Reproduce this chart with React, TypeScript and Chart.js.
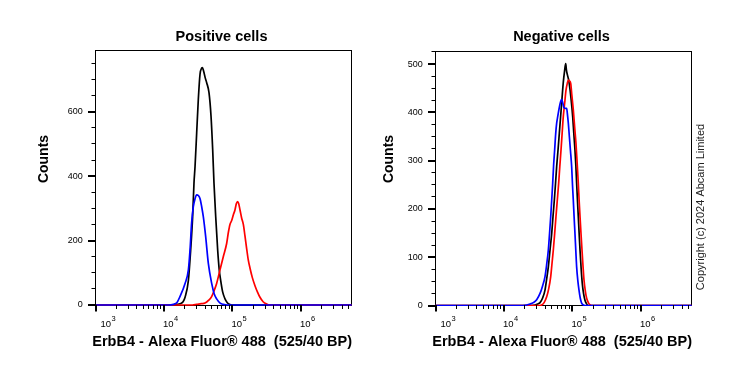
import React, { useEffect, useRef } from "react";
import { Chart, registerables } from "chart.js";

Chart.register(...registerables);

const FONT = "'Liberation Sans', Arial, Helvetica, sans-serif";

// ---------- shared x axis (log, fluorescence) ----------
const xMin = 983;
const xMax = 5.56e6;
const xMajorValues = [1e3, 1e4, 1e5, 1e6];
const xMajorBase = "10";
const xMajorExponents = ["3", "4", "5", "6"];
const xDecades = [3, 4, 5, 6];
const xMantissas = [1, 2, 3, 4, 5, 6, 7, 8, 9];
const xAxisTitle = "ErbB4 - Alexa Fluor® 488  (525/40 BP)";
const yAxisTitle = "Counts";

// ---------- Positive cells ----------
const posTitle = "Positive cells";
const posYMajor = [0, 200, 400, 600];
const posYMinor = [0, 50, 100, 150, 200, 250, 300, 350, 400, 450, 500, 550, 600, 650, 700, 750];

const posBlackX = [983, 13000, 15500, 17100, 19000, 20300, 22700, 24500, 26200, 27400, 28400, 30000, 31700, 33600, 35500, 36300, 38000, 40000, 42000, 45400, 48600, 51400, 53700, 56900, 60800, 64000, 67300, 72000, 77800, 84000, 90000, 100000, 5.5e6];
const posBlackY = [0, 0, 2, 4, 10, 24, 76, 170, 274, 378, 430, 534, 638, 717, 735, 737, 725, 705, 690, 659, 586, 482, 378, 274, 170, 110, 76, 40, 19, 7, 2, 0, 0];

const posBlueX = [983, 11500, 13700, 15500, 17100, 20300, 22700, 24000, 25300, 26800, 28400, 30000, 31700, 33600, 35500, 37500, 40600, 44400, 49700, 54000, 58700, 66000, 73400, 85000, 5.5e6];
const posBlueY = [0, 0, 2, 8, 26, 67, 109, 171, 254, 305, 330, 342, 340, 330, 305, 274, 212, 129, 67, 35, 19, 6, 2, 0, 0];

const posRedX = [983, 26000, 30000, 35000, 39700, 45000, 49600, 54000, 58700, 65700, 73400, 82200, 87000, 91900, 97300, 103000, 108700, 114000, 119000, 123000, 128800, 136000, 144000, 152000, 161000, 170000, 180000, 195000, 213000, 232000, 252000, 280000, 315000, 350000, 5.5e6];
const posRedY = [0, 0, 2, 4, 6, 15, 26, 45, 67, 109, 150, 191, 225, 250, 262, 280, 295, 315, 321, 315, 295, 270, 250, 215, 175, 140, 115, 85, 60, 40, 24, 10, 3, 0, 0];

// ---------- Negative cells ----------
const negTitle = "Negative cells";
const negYMajor = [0, 100, 200, 300, 400, 500];
const negYMinor = [0, 25, 50, 75, 100, 125, 150, 175, 200, 225, 250, 275, 300, 325, 350, 375, 400, 425, 450, 475, 500, 525];

const negBlackX = [983, 25000, 28400, 31000, 33600, 36500, 39700, 42000, 44400, 47000, 49700, 52000, 54300, 56500, 58700, 61500, 64200, 67000, 70000, 73400, 76500, 79600, 81500, 84100, 87000, 90000, 95000, 100700, 104500, 108700, 112000, 115000, 118000, 121600, 125000, 128800, 134000, 139000, 145000, 152100, 160000, 170000, 5.5e6];
const negBlackY = [0, 0, 1, 3, 6, 15, 32, 55, 80, 115, 149, 185, 218, 252, 287, 322, 356, 390, 425, 462, 485, 501, 488, 478, 470, 458, 430, 391, 357, 322, 290, 253, 220, 184, 150, 115, 75, 46, 25, 11, 4, 0, 0];

const negBlueX = [983, 19000, 21400, 24000, 26800, 30000, 33600, 36500, 39700, 42000, 44400, 46300, 48100, 49700, 51400, 53000, 54900, 56800, 58700, 61000, 64200, 67000, 69500, 72000, 75000, 79600, 82200, 84100, 87000, 90000, 93500, 97300, 100000, 102800, 105500, 108700, 112000, 115000, 120000, 124500, 130000, 136000, 145000, 152000, 5.5e6];
const negBlueY = [0, 0, 1, 3, 6, 12, 25, 40, 60, 85, 115, 150, 184, 218, 253, 290, 322, 355, 377, 392, 410, 422, 427, 420, 410, 408, 408, 398, 377, 350, 320, 287, 250, 218, 185, 149, 112, 80, 50, 32, 15, 5, 1, 0, 0];

const negRedX = [983, 33000, 35500, 38500, 42000, 45000, 48100, 50300, 52500, 55000, 57400, 60000, 62800, 65300, 68000, 70500, 73400, 77000, 80400, 84000, 87000, 90500, 94200, 98000, 102800, 107500, 112400, 117000, 121600, 125000, 128800, 133000, 137700, 142000, 147200, 154000, 161000, 172000, 182000, 190500, 5.5e6];
const negRedY = [0, 0, 1, 6, 18, 35, 60, 88, 115, 150, 184, 218, 253, 288, 322, 355, 391, 420, 446, 460, 467, 465, 460, 435, 405, 370, 336, 295, 253, 218, 184, 150, 115, 85, 53, 30, 15, 5, 1, 0, 0];

const copyrightText = "Copyright (c) 2024 Abcam Limited";

const BLACK = "#000000";
const BLUE = "#0000ff";
const RED = "#ff0000";

type Series = { xs: number[]; ys: number[]; color: string };

type PanelCfg = {
  title: string;
  series: Series[];
  yMin: number;
  yMax: number;
  yMajor: number[];
  yMinor: number[];
  yAxisWidth: number;
  padTop: number;
  padRight: number;
  countsOffset: number;
  copyright?: { x: number; y: number };
};

const xTickValues: number[] = [];
xDecades.forEach((d) =>
  xMantissas.forEach((m) => {
    const v = m * Math.pow(10, d);
    if (v >= xMin && v <= xMax) xTickValues.push(v);
  })
);

function makeDecor(p: PanelCfg) {
  return {
    id: "decor",
    beforeDatasetsDraw(chart: any) {
      const { ctx, chartArea: a } = chart;
      ctx.save();
      ctx.strokeStyle = "#000";
      ctx.lineWidth = 1;
      ctx.strokeRect(a.left + 0.5, a.top + 0.5, a.right - a.left - 1, a.bottom - a.top - 1);
      ctx.restore();
    },
    afterDraw(chart: any) {
      const { ctx, chartArea: a, scales } = chart;
      ctx.save();
      ctx.strokeStyle = "#000";
      // x tick marks
      const xs = scales.x;
      xs.ticks.forEach((t: any) => {
        const major = xMajorValues.includes(t.value);
        const px = xs.getPixelForValue(t.value);
        ctx.lineWidth = major ? 2 : 1;
        const xx = major ? Math.round(px) : Math.round(px - 0.5) + 0.5;
        ctx.beginPath();
        ctx.moveTo(xx, a.bottom - 1);
        ctx.lineTo(xx, a.bottom + (major ? 5.5 : 3));
        ctx.stroke();
      });
      // x decade labels: "10" with raised exponent
      ctx.fillStyle = "#000";
      ctx.textAlign = "left";
      ctx.textBaseline = "alphabetic";
      xMajorValues.forEach((v, i) => {
        const px = xs.getPixelForValue(v);
        const x0 = Math.max(px - 1, a.left + 5.5);
        ctx.font = `9.5px ${FONT}`;
        ctx.fillText(xMajorBase, x0, 326.5);
        const w = ctx.measureText(xMajorBase).width;
        ctx.font = `7.5px ${FONT}`;
        ctx.fillText(xMajorExponents[i], x0 + w + 0.5, 321);
      });
      // y tick marks
      const ys = scales.y;
      ys.ticks.forEach((t: any) => {
        const major = p.yMajor.includes(t.value);
        const py = ys.getPixelForValue(t.value);
        ctx.lineWidth = major ? 2 : 1;
        const yy = major ? Math.round(py) : Math.round(py - 0.5) + 0.5;
        ctx.beginPath();
        ctx.moveTo(a.left + 1, yy);
        ctx.lineTo(a.left - (major ? 7 : 3.5), yy);
        ctx.stroke();
      });
      // texts
      ctx.fillStyle = "#000";
      ctx.font = `bold 14.5px ${FONT}`;
      ctx.textAlign = "center";
      ctx.textBaseline = "alphabetic";
      ctx.fillText(p.title, (a.left + a.right) / 2 - 2, 40.5);
      ctx.textAlign = "right";
      ctx.fillText(xAxisTitle, a.right, 345.5);
      ctx.save();
      ctx.font = `bold 14px ${FONT}`;
      ctx.translate(a.left - p.countsOffset, 159);
      ctx.rotate(-Math.PI / 2);
      ctx.textAlign = "center";
      ctx.textBaseline = "middle";
      ctx.fillText(yAxisTitle, 0, 0);
      ctx.restore();
      if (p.copyright) {
        ctx.save();
        ctx.font = `11px ${FONT}`;
        ctx.fillStyle = "#222";
        ctx.translate(p.copyright.x, p.copyright.y);
        ctx.rotate(-Math.PI / 2);
        ctx.textAlign = "center";
        ctx.textBaseline = "middle";
        ctx.fillText(copyrightText, 0, 0);
        ctx.restore();
      }
      ctx.restore();
    },
  };
}

function buildChart(canvas: HTMLCanvasElement, p: PanelCfg) {
  return new Chart(canvas, {
    type: "line",
    data: {
      datasets: p.series.map((s) => ({
        data: s.xs.map((x, i) => ({ x, y: s.ys[i] })),
        borderColor: s.color,
        backgroundColor: s.color,
        borderWidth: 1.7,
        pointRadius: 0,
        fill: false,
        cubicInterpolationMode: "monotone" as const,
      })),
    },
    options: {
      animation: false,
      responsive: false,
      events: [],
      layout: { padding: { top: p.padTop, right: p.padRight, left: 0, bottom: 0 } },
      plugins: { legend: { display: false }, tooltip: { enabled: false }, title: { display: false } },
      scales: {
        x: {
          type: "logarithmic",
          min: xMin,
          max: xMax,
          grid: { display: false, drawTicks: false },
          border: { display: false },
          afterBuildTicks: (s: any) => {
            s.ticks = xTickValues.map((v) => ({ value: v }));
          },
          afterFit: (s: any) => {
            s.height = 64;
          },
          ticks: {
            autoSkip: false,
            maxRotation: 0,
            minRotation: 0,
            padding: 10,
            color: "#000",
            font: { family: FONT, size: 10 },
            callback: () => "",
          },
        },
        y: {
          type: "linear",
          min: p.yMin,
          max: p.yMax,
          grid: { display: false, drawTicks: false },
          border: { display: false },
          afterBuildTicks: (s: any) => {
            s.ticks = p.yMinor.map((v) => ({ value: v }));
          },
          afterFit: (s: any) => {
            s.width = p.yAxisWidth;
          },
          ticks: {
            autoSkip: false,
            padding: 12.3,
            color: "#000",
            font: { family: FONT, size: 9 },
            callback: (v: any) => (p.yMajor.includes(Number(v)) ? String(v) : ""),
          },
        },
      },
    } as any,
    plugins: [makeDecor(p)],
  });
}

export default function App() {
  const leftRef = useRef<HTMLCanvasElement>(null);
  const rightRef = useRef<HTMLCanvasElement>(null);

  useEffect(() => {
    const left: PanelCfg = {
      title: posTitle,
      series: [
        { xs: posBlueX, ys: posBlueY, color: BLUE },
        { xs: posRedX, ys: posRedY, color: RED },
        { xs: posBlackX, ys: posBlackY, color: BLACK },
      ],
      yMin: -3.1,
      yMax: 791.5,
      yMajor: posYMajor,
      yMinor: posYMinor,
      yAxisWidth: 95,
      padTop: 50,
      padRight: 18,
      countsOffset: 51,
    };
    const right: PanelCfg = {
      title: negTitle,
      series: [
        { xs: negBlueX, ys: negBlueY, color: BLUE },
        { xs: negRedX, ys: negRedY, color: RED },
        { xs: negBlackX, ys: negBlackY, color: BLACK },
      ],
      yMin: -1,
      yMax: 527,
      yMajor: negYMajor,
      yMinor: negYMinor,
      yAxisWidth: 65,
      padTop: 51,
      padRight: 47,
      countsOffset: 45.5,
      copyright: { x: 330.5, y: 207 },
    };
    const c1 = buildChart(leftRef.current!, left);
    const c2 = buildChart(rightRef.current!, right);
    return () => {
      c1.destroy();
      c2.destroy();
    };
  }, []);

  return (
    <div
      style={{
        position: "fixed",
        left: 0,
        top: 0,
        width: 739,
        height: 370,
        background: "#fff",
        overflow: "hidden",
      }}
    >
      <canvas
        ref={leftRef}
        width={370}
        height={370}
        style={{ position: "absolute", left: 0, top: 0, width: 370, height: 370 }}
      />
      <canvas
        ref={rightRef}
        width={369}
        height={370}
        style={{ position: "absolute", left: 370, top: 0, width: 369, height: 370 }}
      />
    </div>
  );
}
